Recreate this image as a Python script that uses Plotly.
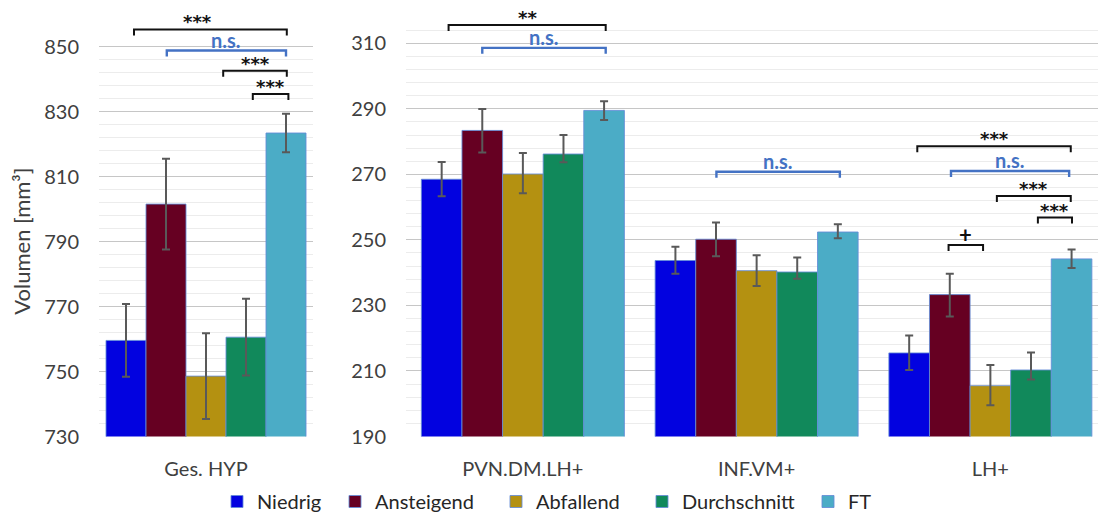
import plotly.graph_objects as go

W, H = 1098, 521
FONT = "Lato"
STAR_FONT = "DejaVu Sans"
TEXT_COLOR = "#404040"

series = ["Niedrig", "Ansteigend", "Abfallend", "Durchschnitt", "FT"]
colors = ["#0202e0", "#660022", "#b49111", "#11895b", "#4bacc6"]
legend_widths = [73, 116, 101, 121, 20]

left_categories = ["Ges. HYP"]
right_categories = ["PVN.DM.LH+", "INF.VM+", "LH+"]

# Ges. HYP: mean volume and error per group
ges_hyp_mean = [759.6, 801.6, 748.6, 760.6, 823.5]
ges_hyp_err = [11.2, 14.0, 13.2, 11.8, 5.9]

# sub-regions (PVN.DM.LH+, INF.VM+, LH+), one list per group
niedrig_mean = [268.5, 243.7, 215.5]
ansteigend_mean = [283.4, 250.2, 233.3]
abfallend_mean = [270.1, 240.6, 205.5]
durchschnitt_mean = [276.2, 240.2, 210.3]
ft_mean = [289.5, 252.4, 244.2]

niedrig_err_up = [5.3, 4.2, 5.3]
niedrig_err_down = [5.2, 4.0, 5.2]
ansteigend_err_up = [6.5, 5.1, 6.4]
ansteigend_err_down = [6.7, 5.2, 6.7]
abfallend_err_up = [6.4, 4.7, 6.3]
abfallend_err_down = [5.9, 4.7, 6.0]
durchschnitt_err_up = [5.8, 4.4, 5.3]
durchschnitt_err_down = [2.5, 2.1, 2.9]
ft_err_up = [2.8, 2.4, 2.9]
ft_err_down = [2.9, 1.9, 2.8]

right_means = [niedrig_mean, ansteigend_mean, abfallend_mean, durchschnitt_mean, ft_mean]
right_err_up = [niedrig_err_up, ansteigend_err_up, abfallend_err_up,
                durchschnitt_err_up, ft_err_up]
right_err_down = [niedrig_err_down, ansteigend_err_down, abfallend_err_down,
                  durchschnitt_err_down, ft_err_down]

# significance brackets: (panel, category index, from group, to group, label, level, colour, label at)
BLACK = "#111111"
BLUE = "#4472c4"
brackets = [
    ("L", 0, 0.2, 4.02, "***", 855.4, BLACK, 1.78),
    ("L", 0, 1.02, 4.0, "n.s.", 848.9, BLUE, None),
    ("L", 0, 2.43, 4.02, "***", 842.7, BLACK, None),
    ("L", 0, 3.17, 4.06, "***", 835.5, BLACK, None),
    ("R", 0, 0.17, 4.04, "**", 315.6, BLACK, None),
    ("R", 0, 1.0, 4.04, "n.s.", 308.6, BLUE, None),
    ("R", 1, 1.01, 4.05, "n.s.", 270.8, BLUE, None),
    ("R", 2, 0.2, 3.98, "***", 278.6, BLACK, None),
    ("R", 2, 1.03, 3.94, "n.s.", 271.0, BLUE, None),
    ("R", 2, 2.16, 3.98, "***", 263.4, BLACK, None),
    ("R", 2, 3.17, 4.01, "***", 256.8, BLACK, None),
    ("R", 2, 0.97, 1.82, "+", 248.4, BLACK, None),
]

# pixel geometry of the two panels
L_X0, L_X1 = 99, 313
R_X0, R_X1 = 406, 1098
BOTTOM = 436.5
L_RANGE = [730, 858]
L_SCALE = 3.246          # px per unit
R_RANGE = [190, 318]
R_SCALE = 3.277
L_TOP = BOTTOM - (L_RANGE[1] - L_RANGE[0]) * L_SCALE
R_TOP = BOTTOM - (R_RANGE[1] - R_RANGE[0]) * R_SCALE

L_BAR_W = 40 / (L_X1 - L_X0)
R_CAT_PX = 233.75
R_BAR_W = 40.6 / R_CAT_PX
R_XRANGE = [-0.5, (R_X1 - R_X0) / R_CAT_PX - 0.5]


def bar_center(cat, k, w):
    return cat + (k - 2) * w


outline = dict(color="rgba(100,140,215,0.85)", width=1)

fig = go.Figure()
for k, name in enumerate(series):
    fig.add_trace(go.Bar(
        x=[0], y=[ges_hyp_mean[k]], name=name, legendgroup=name,
        legendwidth=legend_widths[k],
        width=L_BAR_W, offset=(k - 2.5) * L_BAR_W,
        marker=dict(color=colors[k], line=outline),
        error_y=dict(type="data", array=[ges_hyp_err[k]], color="#595959",
                     thickness=2, width=4),
        xaxis="x", yaxis="y", showlegend=True,
    ))
for k, name in enumerate(series):
    fig.add_trace(go.Bar(
        x=list(range(len(right_categories))), y=right_means[k], name=name,
        legendgroup=name,
        width=R_BAR_W, offset=(k - 2.5) * R_BAR_W,
        marker=dict(color=colors[k], line=outline),
        error_y=dict(type="data", array=right_err_up[k], arrayminus=right_err_down[k],
                     symmetric=False, color="#595959", thickness=2, width=4),
        xaxis="x2", yaxis="y2", showlegend=False,
    ))

TICK_PX = 6
for panel, cat, a, b, label, level, col, label_at in brackets:
    if panel == "L":
        w, xr, yr, scale = L_BAR_W, "x", "y", L_SCALE
    else:
        w, xr, yr, scale = R_BAR_W, "x2", "y2", R_SCALE
    x0 = bar_center(cat, a, w)
    x1 = bar_center(cat, b, w)
    drop = TICK_PX / scale
    fig.add_shape(
        type="path",
        path=f"M {x0},{level - drop} L {x0},{level} L {x1},{level} L {x1},{level - drop}",
        xref=xr, yref=yr, line=dict(color=col, width=2.4 if col == BLUE else 2),
    )
    lx = bar_center(cat, label_at, w) if label_at is not None else (x0 + x1) / 2
    if label.startswith("*"):
        family, size, shift = STAR_FONT, 18, -4
    elif label == "+":
        family, size, shift = FONT, 22, -3.5
    else:
        family, size, shift = FONT, 20, -2
    fig.add_annotation(
        x=lx, y=level, xref=xr, yref=yr, text=label, showarrow=False,
        yanchor="bottom", yshift=shift, borderpad=0,
        font=dict(family=family, size=size, color=col, weight="bold"),
    )

fig.add_annotation(
    x=22 / W, y=1 - (BOTTOM + 47) / 2 / H, xref="paper", yref="paper",
    xanchor="center", yanchor="middle",
    text="Volumen [mm³]", textangle=-90, showarrow=False,
    font=dict(family=FONT, size=22, color=TEXT_COLOR),
)

tickfont = dict(family=FONT, size=20, color=TEXT_COLOR)
grid = dict(showgrid=True, gridcolor="#c6c6c6", gridwidth=1.4, zeroline=False,
            showline=False, ticks="", ticklabelstandoff=19, automargin=False,
            tickfont=tickfont)
minor = dict(showgrid=True, gridcolor="#ececec", gridwidth=1.2)
xcommon = dict(showgrid=False, zeroline=False, showline=False, ticks="",
               ticklabelstandoff=18, automargin=False, tickfont=tickfont)

fig.update_layout(
    width=W, height=H,
    margin=dict(l=0, r=0, t=0, b=0),
    paper_bgcolor="white", plot_bgcolor="white",
    barmode="overlay",
    font=dict(family=FONT, size=20, color=TEXT_COLOR),
    xaxis=dict(domain=[L_X0 / W, L_X1 / W], range=[-0.5, 0.5], anchor="y",
               tickvals=[0], ticktext=left_categories, **xcommon),
    yaxis=dict(domain=[1 - BOTTOM / H, 1 - L_TOP / H], range=L_RANGE, anchor="x",
               tickvals=list(range(730, 851, 20)),
               minor=dict(tickvals=list(range(730, 851, 4)), **minor), **grid),
    xaxis2=dict(domain=[R_X0 / W, R_X1 / W], range=R_XRANGE, anchor="y2",
                tickvals=list(range(len(right_categories))), ticktext=right_categories,
                **xcommon),
    yaxis2=dict(domain=[1 - BOTTOM / H, 1 - R_TOP / H], range=R_RANGE, anchor="x2",
                tickvals=list(range(190, 311, 20)),
                minor=dict(tickvals=list(range(190, 315, 4)), **minor), **grid),
    legend=dict(orientation="h", x=217 / W, xanchor="left", y=0,
                yanchor="bottom", font=dict(family=FONT, size=20, color="#262626"),
                itemclick=False),
    showlegend=True,
)

fig.write_html("out.html")
